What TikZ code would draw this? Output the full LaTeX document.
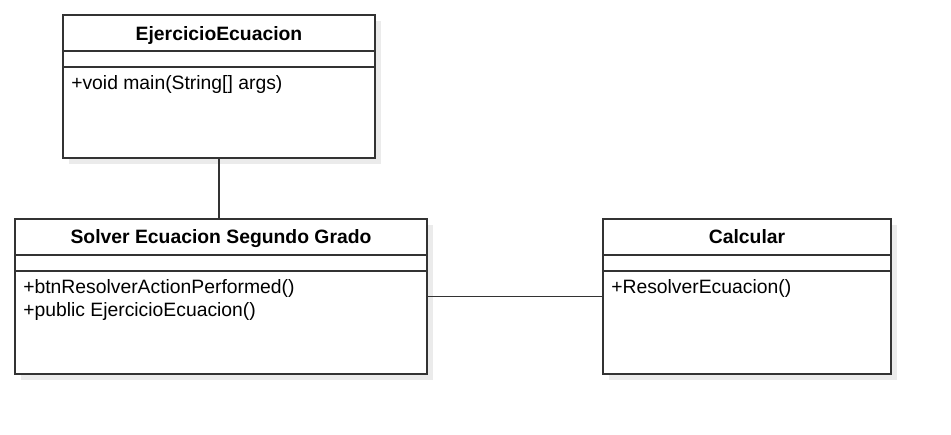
\documentclass[tikz,border=0pt]{standalone}
\usepackage{fontspec}
\setmainfont{Liberation Sans}
\usetikzlibrary{shadows}
\definecolor{boxline}{HTML}{333333}
\tikzset{
  classbox/.style={draw=boxline, line width=1.5pt, fill=white, inner sep=0pt,
    drop shadow={shadow xshift=4.5pt, shadow yshift=-4.5pt, fill=black!8, opacity=1}},
  classname/.style={font=\bfseries\fontsize{14.5}{17}\selectfont, anchor=base, inner sep=0pt},
  member/.style={font=\fontsize{14.5}{17}\selectfont, anchor=base west, inner sep=0pt},
  sep/.style={draw=boxline, line width=1.1pt},
  link/.style={draw=boxline, line width=1.3pt}
}

\begin{document}
\begin{tikzpicture}[x=0.75pt,y=-0.75pt]
\fill[white] (0,0) rectangle (951,435);
\useasboundingbox (0,0) rectangle (951,435);
\node[classbox, minimum width=234pt, minimum height=107.25pt] (ejercicio) at (219,86.5) {};
\node[classbox, minimum width=309pt, minimum height=116.25pt] (solver) at (221,296.5) {};
\node[classbox, minimum width=216pt, minimum height=116.25pt] (calcular) at (747,296.5) {};
\foreach \c in {ejercicio,solver,calcular}{
  \draw[sep] ([yshift=-27.75pt]\c.north west) -- ([yshift=-27.75pt]\c.north east);
  \draw[sep] ([yshift=-39.75pt]\c.north west) -- ([yshift=-39.75pt]\c.north east);
}
\node[classname] (ejercicioName) at (219,40.5) {EjercicioEcuacion};
\node[member] (ejercicioOp1) at (71,89.5) {+void main(String[] args)};
\node[classname] (solverName) at (221,243.5) {Solver Ecuacion Segundo Grado};
\node[member] (solverOp1) at (23,293.5) {+btnResolverActionPerformed()};
\node[member] (solverOp2) at (23,316) {+public EjercicioEcuacion()};
\node[classname] (calcularName) at (747,243.5) {Calcular};
\node[member] (calcularOp1) at (611,293.5) {+ResolverEcuacion()};
\draw[link] (ejercicio.south) -- (ejercicio.south |- solver.north);
\draw[link] (solver.east) -- (calcular.west);
\end{tikzpicture}
\end{document}
